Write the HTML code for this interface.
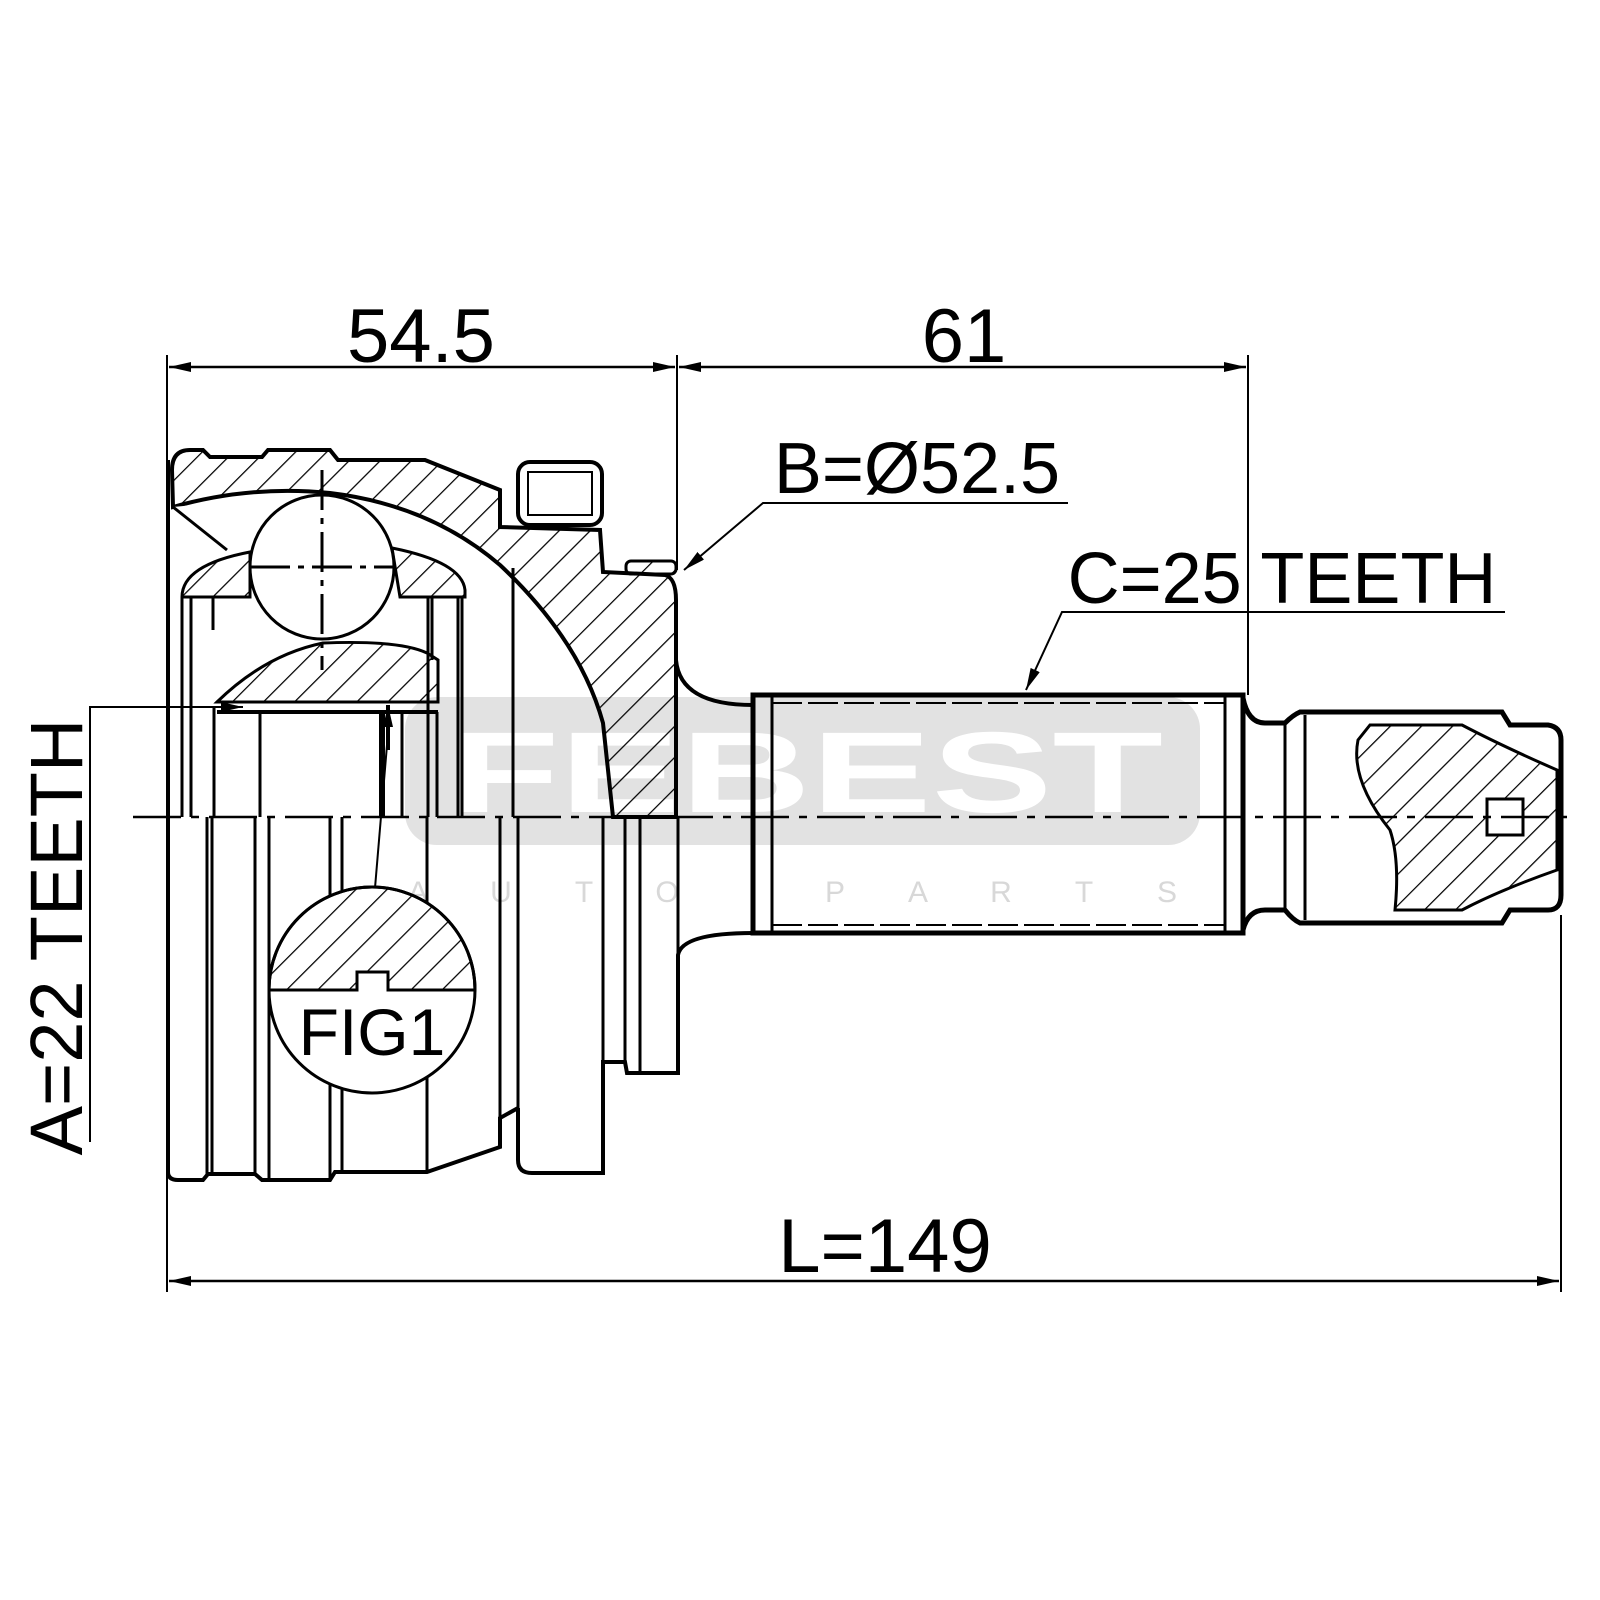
<!DOCTYPE html>
<html><head><meta charset="utf-8"><style>
html,body{margin:0;padding:0;background:#fff;}
svg{display:block;}
text{font-family:"Liberation Sans",Arial,sans-serif;}
</style></head><body>
<svg width="1600" height="1600" viewBox="0 0 1600 1600" xmlns="http://www.w3.org/2000/svg">
<defs>
<pattern id="h" patternUnits="userSpaceOnUse" width="22" height="22" patternTransform="rotate(45)">
<line x1="0" y1="0" x2="0" y2="22" stroke="#000" stroke-width="2.5"/>
</pattern>
<marker id="a" viewBox="0 0 22 10" refX="22" refY="5" markerWidth="22" markerHeight="10" markerUnits="userSpaceOnUse" orient="auto-start-reverse">
<path d="M0,0 L22,5 L0,10 z" fill="#000"/>
</marker>
</defs>

<!-- watermark -->
<rect x="405" y="697" width="795" height="148" rx="32" fill="#e2e2e2"/>
<text x="449" y="812" font-size="115" font-weight="bold" fill="#fff" textLength="714" lengthAdjust="spacingAndGlyphs">FEBEST</text>
<g font-size="30" fill="#d8d8d8" text-anchor="middle">
<text x="418" y="902">A</text><text x="501" y="902">U</text><text x="584" y="902">T</text><text x="667" y="902">O</text>
<text x="835" y="902">P</text><text x="918" y="902">A</text><text x="1001" y="902">R</text><text x="1084" y="902">T</text><text x="1167" y="902">S</text>
</g>

<g stroke="#000" fill="none">
<line x1="167" y1="355" x2="167" y2="1292" stroke-width="2"/>
<line x1="677" y1="355" x2="677" y2="570" stroke-width="2"/>
<line x1="1248" y1="355" x2="1248" y2="695" stroke-width="2"/>
<line x1="1561" y1="915" x2="1561" y2="1292" stroke-width="2"/>
<line x1="169" y1="367" x2="675" y2="367" stroke-width="2.5" marker-start="url(#a)" marker-end="url(#a)"/>
<line x1="679" y1="367" x2="1246" y2="367" stroke-width="2.5" marker-start="url(#a)" marker-end="url(#a)"/>
<line x1="169" y1="1281" x2="1559" y2="1281" stroke-width="2.5" marker-start="url(#a)" marker-end="url(#a)"/>
<polyline points="1068,503 763,503 684,570" stroke-width="2" marker-end="url(#a)"/>
<polyline points="1505,612 1062,612 1026,690" stroke-width="2" marker-end="url(#a)"/>
<polyline points="90,1142 90,707 243,707" stroke-width="2" marker-end="url(#a)"/>
<line x1="388" y1="705" x2="388" y2="750" stroke-width="4" marker-start="url(#a)"/>
<line x1="387" y1="745" x2="375" y2="888" stroke-width="2"/>

<!-- hatched housing upper -->
<path d="M172,470 Q172,450 190,450 L203,450 L210,457 L262,457 L268,450 L330,450 L338,460 L425,460 L500,490 L500,527 L600,530 L603,572 L665,575 Q676,578 676,600 L676,817 L613,817 L603,723 Q580,640 500,565 Q430,505 330,493 Q250,485 173,507 Z" fill="url(#h)" stroke-width="4"/>
<path d="M676,660 Q680,705 753,705" stroke-width="4"/>
<!-- inner cavity -->
<path d="M173,507 L227,550 L182,575 L182,600 L465,600 L465,575 Q440,560 393,547 Q330,500 300,495 Z" fill="#fff" stroke="none"/>
<line x1="173" y1="507" x2="227" y2="550" stroke-width="3"/>
<path d="M182,597 Q182,565 250,552 L250,597 Z" fill="url(#h)" stroke-width="3"/>
<path d="M392,548 Q462,562 465,590 L465,597 L400,597 Z" fill="url(#h)" stroke-width="3"/>
<path d="M217,702 Q265,655 323,643 Q400,640 427,653 L438,660 L438,702 Z" fill="url(#h)" stroke-width="3"/>
<circle cx="322" cy="567" r="72" fill="#fff" stroke-width="3"/>
<line x1="322" y1="470" x2="322" y2="670" stroke-width="3" stroke-dasharray="40,8,6,8"/>
<line x1="250" y1="567" x2="395" y2="567" stroke-width="3" stroke-dasharray="40,8,6,8"/>
<rect x="518" y="462" width="84" height="63" rx="12" stroke-width="4" fill="#fff"/>
<rect x="528" y="472" width="64" height="43" stroke-width="2"/>
<rect x="626" y="561" width="50" height="13" rx="5" stroke-width="3" fill="url(#h)"/>

<g stroke-width="3">
<line x1="182" y1="597" x2="182" y2="817"/>
<line x1="191" y1="597" x2="191" y2="817"/>
<line x1="213" y1="597" x2="213" y2="630"/>
<line x1="214" y1="707" x2="214" y2="817"/>
<line x1="428" y1="597" x2="428" y2="817"/>
<line x1="432" y1="597" x2="432" y2="660"/>
<line x1="458" y1="597" x2="458" y2="817"/>
<line x1="462" y1="597" x2="462" y2="817"/>
<line x1="217" y1="712" x2="438" y2="712" stroke-width="4"/>
<line x1="260" y1="712" x2="260" y2="817"/>
<line x1="382" y1="712" x2="382" y2="817" stroke-width="6"/>
<line x1="402" y1="712" x2="402" y2="817"/>
<line x1="437" y1="712" x2="437" y2="817"/>
<line x1="513" y1="568" x2="513" y2="817"/>
</g>

<path d="M168,460 L168,1172 Q168,1180 178,1180 L203,1180 L208,1174 L255,1174 L262,1180 L330,1180 L335,1172 L427,1172 L500,1147 L500,1118 L518,1108" stroke-width="4"/>
<path d="M518,1108 L518,1160 Q518,1173 532,1173 L603,1173 L603,1062 L625,1062 L627,1073 L678,1073 L678,955 Q682,933 753,933" stroke-width="4"/>
<g stroke-width="3">
<line x1="207" y1="817" x2="207" y2="1174"/>
<line x1="212" y1="817" x2="212" y2="1174"/>
<line x1="255" y1="817" x2="255" y2="1174"/>
<line x1="269" y1="817" x2="269" y2="1180"/>
<line x1="330" y1="817" x2="330" y2="1180"/>
<line x1="342" y1="817" x2="342" y2="1172"/>
<line x1="427" y1="817" x2="427" y2="1172"/>
<line x1="500" y1="817" x2="500" y2="1118"/>
<line x1="518" y1="817" x2="518" y2="1108"/>
<line x1="603" y1="817" x2="603" y2="1062"/>
<line x1="625" y1="817" x2="625" y2="1062"/>
<line x1="640" y1="817" x2="640" y2="1073"/>
<line x1="678" y1="817" x2="678" y2="955"/>
</g>

<circle cx="372" cy="990" r="103" fill="#fff" stroke-width="3"/>
<path d="M269,990 A103,103 0 0 1 475,990 L388,990 L388,972 L357,972 L357,990 Z" fill="url(#h)" stroke-width="3"/>

<rect x="753" y="695" width="490" height="238" stroke-width="5" fill="none"/>
<line x1="772" y1="695" x2="772" y2="933" stroke-width="3"/>
<line x1="1225" y1="695" x2="1225" y2="933" stroke-width="3"/>
<line x1="772" y1="703" x2="1225" y2="703" stroke-width="2" stroke-dasharray="30,6"/>
<line x1="772" y1="925" x2="1225" y2="925" stroke-width="2" stroke-dasharray="30,6"/>
<path d="M1243,698 Q1248,723 1265,723 L1285,723 Q1293,715 1300,712 L1502,712 L1510,725 L1548,725 Q1561,727 1561,740 L1561,895 Q1561,910 1548,910 L1510,910 L1502,923 L1300,923 Q1293,920 1285,910 L1265,910 Q1248,910 1243,930" stroke-width="5"/>
<line x1="1285" y1="723" x2="1285" y2="910" stroke-width="3"/>
<line x1="1305" y1="715" x2="1305" y2="920" stroke-width="3"/>
<path d="M1370,725 L1462,725 Q1500,745 1557,770 L1557,870 Q1500,890 1462,910 L1395,910 Q1400,860 1390,830 Q1350,780 1358,740 Z" fill="url(#h)" stroke-width="3"/>
<rect x="1487" y="799" width="36" height="36" fill="#fff" stroke-width="3"/>

<line x1="133" y1="817" x2="1575" y2="817" stroke-width="2.5" stroke-dasharray="48,10,8,10"/>
</g>

<text x="421" y="362" font-size="76" text-anchor="middle">54.5</text>
<text x="964" y="362" font-size="76" text-anchor="middle">61</text>
<text x="917" y="493" font-size="72" text-anchor="middle">B=Ø52.5</text>
<text x="1282" y="603" font-size="72" text-anchor="middle">C=25 TEETH</text>
<text x="885" y="1272" font-size="76" text-anchor="middle">L=149</text>
<text transform="translate(82,937) rotate(-90)" font-size="74" text-anchor="middle">A=22 TEETH</text>
<text x="372" y="1055" font-size="66" text-anchor="middle">FIG1</text>
</svg>
</body></html>
